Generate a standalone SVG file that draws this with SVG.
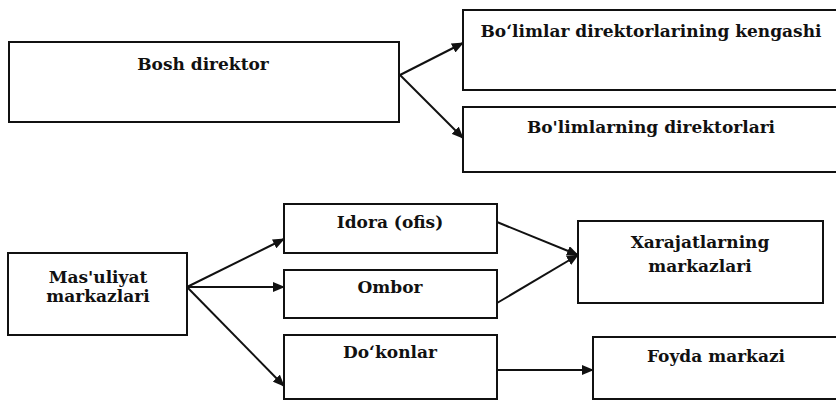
<svg xmlns="http://www.w3.org/2000/svg" width="836" height="401" viewBox="0 0 836 401">
  <style>
    .box { fill: #fff; stroke: #111; stroke-width: 2; }
    .lbl { font-family: "DejaVu Serif", "Liberation Serif", serif; font-size: 17px; font-weight: bold; fill: #111; text-anchor: middle; }
    .edge { stroke: #111; stroke-width: 2; fill: none; marker-end: url(#arrow); }
  </style>
  <defs>
    <marker id="arrow" viewBox="0 0 12 10" refX="11" refY="5" markerWidth="12" markerHeight="10" markerUnits="userSpaceOnUse" orient="auto">
      <path d="M0,0 L12,5 L0,10 z" fill="#111"/>
    </marker>
  </defs>
  <rect width="836" height="401" fill="#fff"/>

  <g id="connectors">
    <line class="edge" x1="400" y1="75" x2="463" y2="43"/>
    <line class="edge" x1="400" y1="75" x2="463" y2="138"/>
    <line class="edge" x1="187" y1="287" x2="284" y2="239"/>
    <line class="edge" x1="187" y1="287" x2="284" y2="287"/>
    <line class="edge" x1="187" y1="287" x2="284" y2="386"/>
    <line class="edge" x1="497" y1="222" x2="578" y2="255"/>
    <line class="edge" x1="497" y1="303" x2="578" y2="255"/>
    <line class="edge" x1="497" y1="370" x2="593" y2="370"/>
  </g>

  <g id="bosh-direktor">
    <rect class="box" x="9" y="42" width="390" height="80"/>
    <text class="lbl" x="203" y="70">Bosh direktor</text>
  </g>

  <g id="kengash">
    <rect class="box" x="463" y="10" width="380" height="80"/>
    <text class="lbl" x="651" y="37">Bo‘limlar direktorlarining kengashi</text>
  </g>

  <g id="bolim-direktorlari">
    <rect class="box" x="463" y="107" width="380" height="65"/>
    <text class="lbl" x="651" y="133">Bo'limlarning direktorlari</text>
  </g>

  <g id="masuliyat">
    <rect class="box" x="8" y="253" width="179" height="82"/>
    <text class="lbl" x="98" y="283">Mas'uliyat</text>
    <text class="lbl" x="98" y="302">markazlari</text>
  </g>

  <g id="idora">
    <rect class="box" x="284" y="204" width="213" height="49"/>
    <text class="lbl" x="390" y="228">Idora (ofis)</text>
  </g>

  <g id="ombor">
    <rect class="box" x="284" y="270" width="213" height="48"/>
    <text class="lbl" x="390" y="293">Ombor</text>
  </g>

  <g id="dokonlar">
    <rect class="box" x="284" y="335" width="213" height="64"/>
    <text class="lbl" x="390" y="358">Do‘konlar</text>
  </g>

  <g id="xarajat">
    <rect class="box" x="578" y="221" width="245" height="82"/>
    <text class="lbl" x="700" y="248">Xarajatlarning</text>
    <text class="lbl" x="700" y="272">markazlari</text>
  </g>

  <g id="foyda">
    <rect class="box" x="593" y="337" width="250" height="62"/>
    <text class="lbl" x="716" y="362">Foyda markazi</text>
  </g>
</svg>
